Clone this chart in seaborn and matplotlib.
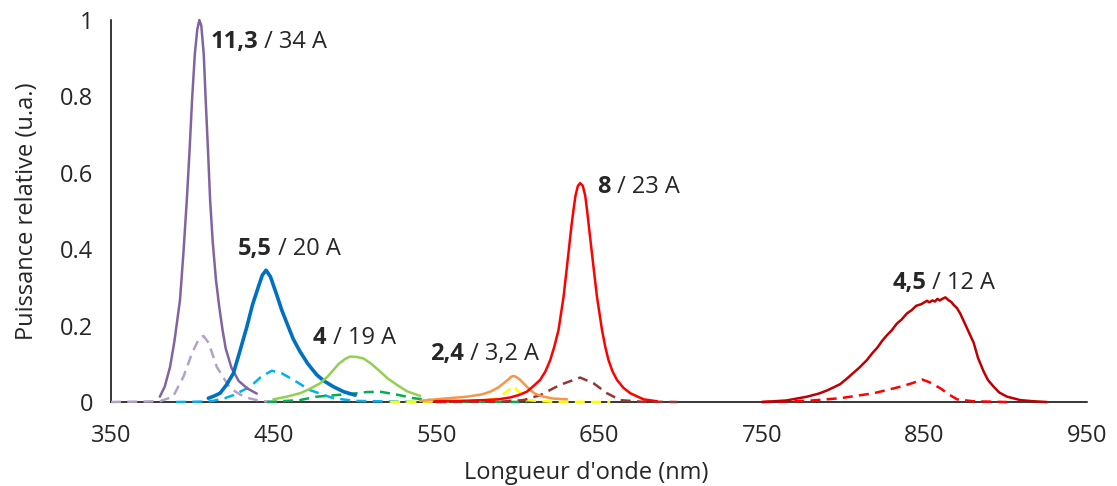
import matplotlib
matplotlib.use("Agg")
from matplotlib import pyplot as plt
import seaborn as sns

# wavelength (nm) / relative power
violet_wl = [380, 383, 386.3, 389, 392.4, 394.5, 396.6, 398.3, 399.8, 401.5, 403, 404.3, 405.5, 407, 408.2,
             409.6, 410.9, 412.5, 414.5, 416.5, 418.5, 420.5, 424, 428.5, 434, 439.6]
violet_p = [0.014, 0.04, 0.092, 0.16, 0.267, 0.39, 0.53, 0.66, 0.79, 0.91, 0.975, 1.0, 0.985, 0.91, 0.79,
            0.66, 0.53, 0.42, 0.32, 0.25, 0.19, 0.14, 0.09, 0.055, 0.035, 0.022]
violet_d_wl = [350, 380, 388.1, 394.5, 400, 404, 406.8, 410, 415, 423.2, 430, 435.5, 442, 449.6]
violet_d_p = [0, 0.002, 0.014, 0.066, 0.13, 0.165, 0.173, 0.155, 0.092, 0.036, 0.018, 0.009, 0.003, 0]

blue_wl = [409.8, 413, 417, 421, 425.2, 429, 433.5, 437, 440.6, 443, 445.3, 448, 451.9, 455, 459, 462,
           466.2, 471, 476.5, 481, 486.7, 493, 500.1]
blue_p = [0.01, 0.015, 0.023, 0.045, 0.075, 0.13, 0.197, 0.255, 0.302, 0.332, 0.345, 0.328, 0.28, 0.24, 0.197, 0.165,
          0.132, 0.1, 0.071, 0.055, 0.04, 0.027, 0.018]
blue_d_wl = [390, 405, 412.7, 420, 425.2, 435.5, 442, 448.8, 455, 462.1, 472.4, 486.7, 500, 540]
blue_d_p = [0, 0.001, 0.003, 0.01, 0.018, 0.04, 0.065, 0.082, 0.075, 0.058, 0.031, 0.01, 0.003, 0]

green_wl = [449.8, 458, 466.2, 472, 478.5, 483, 486.7, 490, 494, 497, 501, 505.2, 510, 515.4, 520, 525.7, 532, 540]
green_p = [0.007, 0.014, 0.023, 0.034, 0.049, 0.066, 0.084, 0.1, 0.113, 0.119, 0.118, 0.114, 0.1, 0.08, 0.062,
           0.045, 0.028, 0.016]
green_d_wl = [445.8, 466, 476.5, 488, 499, 507, 515.4, 525, 535.9, 550.3, 570, 605.8]
green_d_p = [0, 0.005, 0.014, 0.018, 0.022, 0.026, 0.027, 0.02, 0.01, 0.003, 0.001, 0]

orange_wl = [540, 549.3, 568.8, 578, 583.1, 588, 591.3, 594.5, 596, 597.1, 598.5, 600, 601.5, 604.5, 607.7,
             611, 615.9, 622, 630.3]
orange_p = [0.003, 0.007, 0.014, 0.02, 0.027, 0.038, 0.049, 0.06, 0.066, 0.068, 0.067, 0.063, 0.058, 0.045, 0.031,
            0.021, 0.014, 0.009, 0.007]
yellow_d_wl = [521.6, 560, 580, 587.2, 593.4, 597.4, 601.5, 605.6, 620, 656.9]
yellow_d_p = [0, 0.002, 0.005, 0.01, 0.027, 0.042, 0.023, 0.005, 0.001, 0]

red_wl = [549, 565, 579, 588, 595.4, 600.5, 605.6, 610, 613.8, 617, 620, 622.5, 625.1, 628.2, 631.2, 633, 634.3,
          635.5, 637, 638.4, 640, 641.5, 642.6, 644, 645.6, 648.7, 651.8, 653.8, 655.8, 658.3, 661, 665, 669.2,
          677.4, 685.6]
red_p = [0.002, 0.003, 0.005, 0.007, 0.012, 0.018, 0.027, 0.043, 0.058, 0.08, 0.11, 0.145, 0.189, 0.276, 0.39,
         0.46, 0.503, 0.54, 0.566, 0.573, 0.566, 0.54, 0.503, 0.45, 0.39, 0.276, 0.189, 0.145, 0.11, 0.08, 0.058,
         0.037, 0.023, 0.007, 0.002]
brown_d_wl = [550, 590, 603.5, 613.8, 626.1, 638.4, 646.6, 654.9, 663, 675, 697.9]
brown_d_p = [0, 0.001, 0.005, 0.018, 0.045, 0.064, 0.049, 0.023, 0.005, 0.001, 0]

ir_wl = [750.2, 765, 777.9, 785, 790, 794, 798.3, 802, 806, 810, 814.7, 818, 821, 824, 827, 830, 833, 836,
         839.3, 842, 845, 848, 851.6, 853, 855, 856.5, 858, 859.5, 861, 862.9, 865, 866.5, 868, 870, 872, 876,
         880.3, 883, 886.4, 889, 892.6, 896, 900.8, 909, 917, 925.4]
ir_p = [0, 0.004, 0.014, 0.022, 0.03, 0.038, 0.047, 0.06, 0.075, 0.09, 0.11, 0.128, 0.142, 0.16, 0.175, 0.188,
        0.205, 0.216, 0.232, 0.24, 0.252, 0.256, 0.265, 0.261, 0.266, 0.263, 0.27, 0.266, 0.27, 0.274, 0.266,
        0.262, 0.254, 0.246, 0.232, 0.195, 0.155, 0.115, 0.08, 0.058, 0.04, 0.025, 0.014, 0.005, 0.002, 0]
ir_d_wl = [750, 778, 798.3, 818.8, 835.2, 843, 848.6, 853, 859.8, 865, 870.1, 880, 900.8]
ir_d_p = [0, 0.003, 0.01, 0.023, 0.04, 0.05, 0.059, 0.052, 0.036, 0.02, 0.007, 0.002, 0]

# labels: bold part, regular part, position (nm, power)
lab_bold = ["11,3", "5,5", "4", "2,4", "8", "4,5"]
lab_rest = [" / 34 A", " / 20 A", " / 19 A", " / 3,2 A", " / 23 A", " / 12 A"]
lab_x = [410.9, 428.1, 474.2, 546.2, 648.9, 830.3]
lab_y = [0.942, 0.40, 0.168, 0.126, 0.563, 0.312]

sns.set_style("white")
plt.rcParams['font.family'] = ['Open Sans', 'DejaVu Sans']
FS = 17

fig = plt.figure(figsize=(11.17, 4.86), dpi=100)
ax = fig.add_axes([0.0994, 0.1728, 0.8738, 0.786])

dash = (0, (4, 2.5))
series = [
    (violet_d_wl, violet_d_p, "#B3A2C7", dash, 1.8),
    (blue_d_wl, blue_d_p, "#00B0F0", dash, 1.8),
    (green_d_wl, green_d_p, "#00B050", dash, 1.8),
    (yellow_d_wl, yellow_d_p, "#FFFF00", dash, 1.8),
    (brown_d_wl, brown_d_p, "#943634", dash, 1.8),
    (ir_d_wl, ir_d_p, "#FF0000", dash, 1.8),
    (violet_wl, violet_p, "#8064A2", "-", 1.8),
    (blue_wl, blue_p, "#0070C0", "-", 2.6),
    (green_wl, green_p, "#92D050", "-", 1.8),
    (orange_wl, orange_p, "#F79646", "-", 1.8),
    (red_wl, red_p, "#FF0000", "-", 1.8),
    (ir_wl, ir_p, "#C00000", "-", 1.8),
]
for wl, p, c, ls, lw in series:
    sns.lineplot(x=wl, y=p, ax=ax, color=c, linestyle=ls, linewidth=lw, clip_on=False, zorder=3)

ax.set_xlim(350, 950)
ax.set_ylim(0, 1)
ax.set_xticks(range(350, 951, 100))
ax.set_xticks(range(400, 901, 100), minor=True)
ax.set_yticks([0, 0.2, 0.4, 0.6, 0.8, 1])
ax.set_yticklabels(["0", "0.2", "0.4", "0.6", "0.8", "1"])
ax.tick_params(which='both', direction='inout', length=14, width=1.1, color='black', labelsize=FS)
ax.tick_params(axis='x', pad=9)
ax.tick_params(axis='y', pad=6)
for s in ["top", "right"]:
    ax.spines[s].set_visible(False)
for s in ["left", "bottom"]:
    ax.spines[s].set_color("black")
    ax.spines[s].set_linewidth(1.1)
    ax.spines[s].set_zorder(2)

ax.set_xlabel("Longueur d'onde (nm)", fontsize=FS)
ax.set_ylabel("Puissance relative (u.a.)", fontsize=FS)
ax.xaxis.set_label_coords(0.487, -0.155)
ax.yaxis.set_label_coords(-0.074, 0.5)

for b, r, x, y in zip(lab_bold, lab_rest, lab_x, lab_y):
    t = ax.text(x, y, b, fontsize=FS, fontweight='bold', ha='left', va='center', zorder=5)
    ax.annotate(r, xy=(1, 0), xycoords=t, ha='left', va='bottom', fontsize=FS, zorder=5)

fig.savefig("out.png", dpi=100)
